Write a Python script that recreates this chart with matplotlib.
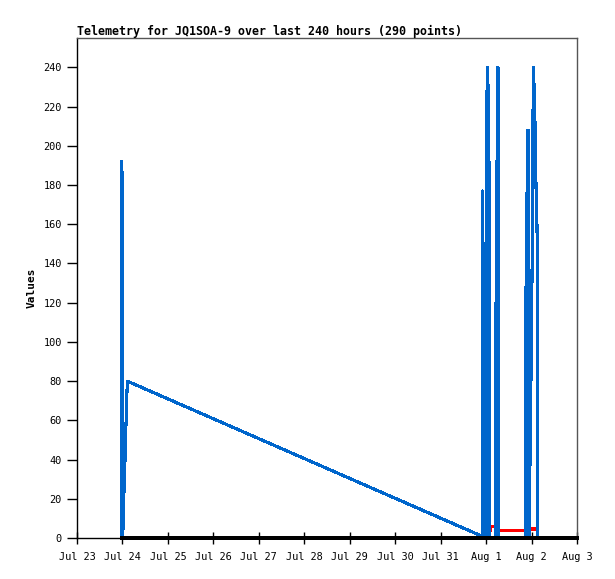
import matplotlib
matplotlib.use('Agg')
import matplotlib.pyplot as plt
import matplotlib.dates as mdates
from matplotlib.ticker import FuncFormatter, MultipleLocator
from datetime import datetime, timedelta

# window start and data (hours after start, value)
start = datetime(2023, 7, 23)
blue_hours = [23.39, 23.45, 23.60, 24.02, 24.10, 24.18, 24.39, 24.61, 24.97, 25.45, 25.98, 26.56,
              213.6, 214.0, 214.05, 214.2, 214.7, 214.95, 215.05, 216.1, 216.15, 216.4, 216.9,
              217.4, 217.6, 217.7,
              221.1, 221.15, 221.3, 222.1, 222.3, 222.4, 236.96, 237.0, 237.2, 237.9, 238.2, 238.3,
              239.13, 239.18, 239.45, 239.98, 240.1, 240.93, 241.56, 242.2, 242.6, 242.9, 242.98]
blue_values = [0, 192, 192, 177, 177, 0, 10, 18, 28, 43, 62, 80,
               1, 0, 177, 177, 88, 88, 0, 0, 225, 225, 240,
               192, 192, 0,
               0, 120, 120, 240, 240, 0, 0, 128, 128, 208, 208, 0,
               0, 54, 54, 112, 112, 240, 225, 192, 160, 160, 0]
red_hours = [215.35, 215.4, 215.9, 218.4, 218.5, 220.8, 220.9, 238.5, 238.7, 243.0, 243.1, 243.15]
red_values = [0, 9.2, 4, 4, 5.8, 5.8, 3.7, 3.7, 4.6, 4.6, 9.2, 0]
black_hours = [24.0, 264.0]
black_values = [0, 0]

title = 'Telemetry for JQ1SOA-9 over last 240 hours (290 points)'


def to_dates(hours):
    return [start + timedelta(hours=h) for h in hours]


fig = plt.figure(figsize=(6.15, 5.79), dpi=100)
ax = fig.add_axes([77 / 615, 41 / 579, 500 / 615, 500 / 579])

ax.plot(to_dates(red_hours), red_values, color='#FF0000', lw=1.5, zorder=2,
        antialiased=False)
ax.plot(to_dates(blue_hours), blue_values, color='#0066CC', lw=1.5, zorder=3,
        antialiased=False)
ax.plot(to_dates(black_hours), black_values, color='black', lw=1.5, zorder=4,
        clip_on=False, antialiased=False)

ax.set_xlim(start, start + timedelta(days=11))
ax.set_ylim(0, 255)
ax.xaxis.set_major_locator(mdates.DayLocator())
ax.xaxis.set_major_formatter(FuncFormatter(
    lambda v, p: mdates.num2date(v).strftime('%b ') + str(mdates.num2date(v).day)))
ax.yaxis.set_major_locator(MultipleLocator(20))

mono = 'DejaVu Sans Mono'
ax.tick_params(axis='x', direction='inout', length=8, width=1, labelsize=7.4, pad=6)
ax.tick_params(axis='y', direction='out', length=7, width=1, labelsize=7.4, pad=4)
for lab in ax.get_xticklabels() + ax.get_yticklabels():
    lab.set_fontfamily(mono)

for side in ['left', 'bottom']:
    ax.spines[side].set_color('black')
    ax.spines[side].set_linewidth(1.0)
for side in ['top', 'right']:
    ax.spines[side].set_color('#555555')
    ax.spines[side].set_linewidth(1.0)

ax.set_title(title, loc='left', fontsize=8.4, fontweight='bold', family=mono, pad=2)
ax.set_ylabel('Values', fontsize=8, fontweight='bold', family=mono, labelpad=5)

fig.savefig('out.png', dpi=100)
plt.close(fig)
